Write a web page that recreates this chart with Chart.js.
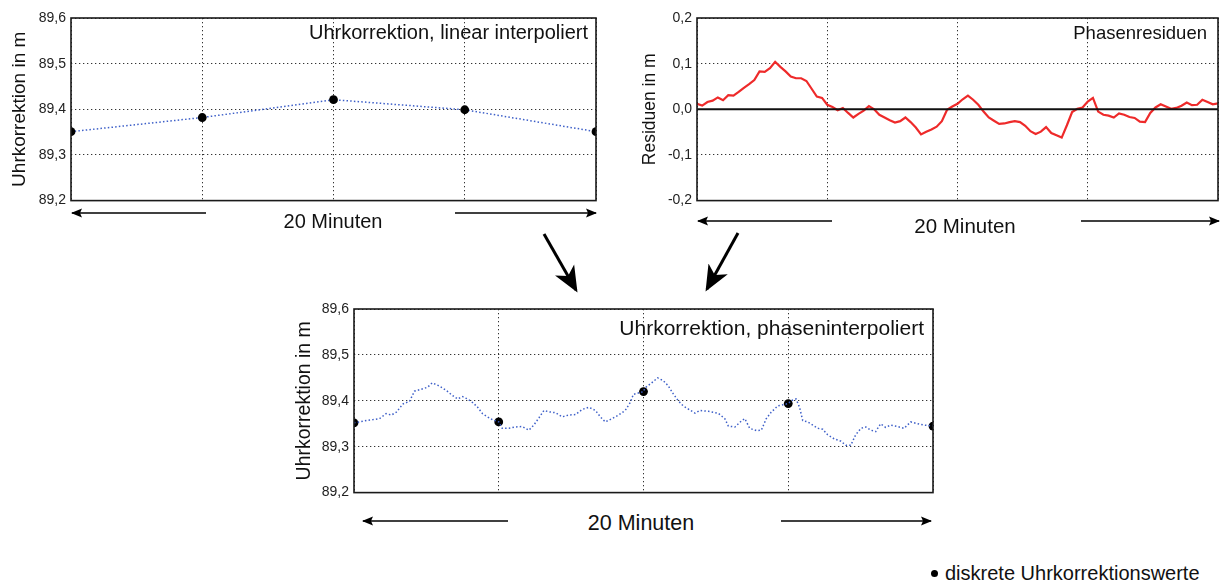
<!DOCTYPE html>
<html>
<head>
<meta charset="utf-8">
<script src="https://cdn.jsdelivr.net/npm/chart.js@4/dist/chart.umd.min.js"></script>
<style>
  body { margin: 0; width: 1222px; height: 582px; background: #fff; position: relative; overflow: hidden;
         font-family: 'Liberation Sans', Arial, sans-serif; color: #111; }
  canvas { position: absolute; }
  .lbl { position: absolute; white-space: nowrap; line-height: 1; }
  .ctr { transform: translate(-50%, -50%); }
  .rgt { transform: translate(-100%, -50%); }
  .dot { display: inline-block; width: 7px; height: 7px; border-radius: 50%; background: #000;
         vertical-align: middle; margin-right: 7px; position: relative; top: -1px; }
  svg { position: absolute; left: 0; top: 0; pointer-events: none; }
</style>
</head>
<body>
<canvas id="linChart" width="606" height="210" style="left:0;top:4px"></canvas>
<canvas id="resChart" width="592" height="210" style="left:630px;top:4px"></canvas>
<canvas id="phaseChart" width="665" height="212" style="left:280px;top:294px"></canvas>

<div class="lbl rgt" style="left:588px;top:32px;font-size:20px">Uhrkorrektion, linear interpoliert</div>
<div class="lbl rgt" style="left:1207px;top:33px;font-size:18.5px">Phasenresiduen</div>
<div class="lbl rgt" style="left:924px;top:327px;font-size:21px">Uhrkorrektion, phaseninterpoliert</div>

<div class="lbl ctr" style="left:333px;top:221px;font-size:20px">20 Minuten</div>
<div class="lbl ctr" style="left:965px;top:226px;font-size:20.5px">20 Minuten</div>
<div class="lbl ctr" style="left:641px;top:524px;font-size:21.5px">20 Minuten</div>

<div class="lbl" style="left:931px;top:563px;font-size:20px"><span class="dot"></span>diskrete Uhrkorrektionswerte</div>

<svg width="1222" height="582">
  <defs>
    <marker id="small" markerUnits="userSpaceOnUse" markerWidth="12" markerHeight="10" refX="10" refY="5" orient="auto">
      <path d="M0,0.5 L11,5 L0,9.5 L2,5 z" fill="#000"/>
    </marker>
    <marker id="big" markerUnits="userSpaceOnUse" markerWidth="28" markerHeight="26" refX="23" refY="13" orient="auto">
      <path d="M0,2 L26,13 L0,24 L7,13 z" fill="#000"/>
    </marker>
  </defs>
  <g stroke="#000" stroke-width="1.6">
    <line x1="206" y1="213" x2="72" y2="213" marker-end="url(#small)"/>
    <line x1="455" y1="213" x2="596" y2="213" marker-end="url(#small)"/>
    <line x1="832" y1="221" x2="698" y2="221" marker-end="url(#small)"/>
    <line x1="1081" y1="221" x2="1219" y2="221" marker-end="url(#small)"/>
    <line x1="508" y1="521" x2="363" y2="521" marker-end="url(#small)"/>
    <line x1="781" y1="521" x2="931" y2="521" marker-end="url(#small)"/>
  </g>
  <g stroke="#000" stroke-width="3">
    <line x1="544" y1="234" x2="576" y2="290" marker-end="url(#big)"/>
    <line x1="738" y1="233" x2="707" y2="289" marker-end="url(#big)"/>
  </g>
</svg>

<script>
// Zeitachse: 20 Minuten, Stützstellen alle 5 Minuten
const minuteTicks = [0, 5, 10, 15, 20];

// Diskrete Uhrkorrektionen (oben links, linear interpoliert)
const linearValues = [89.351, 89.382, 89.421, 89.399, 89.351];

const discreteValues = [89.352, 89.354, 89.420, 89.394, 89.345];

const residStep = 0.2;
const residValues = [
  0.012, 0.008, 0.016, 0.019, 0.026, 0.020, 0.031, 0.030, 0.038, 0.047,
  0.055, 0.064, 0.083, 0.082, 0.090, 0.104, 0.093, 0.083, 0.072, 0.068,
  0.068, 0.062, 0.045, 0.028, 0.025, 0.010,
  0.005, -0.002, 0.003, -0.008, -0.018, -0.010, -0.003, 0.007, 0.000, -0.012,
  -0.018, -0.024, -0.029, -0.026, -0.018, -0.028, -0.040, -0.055, -0.049, -0.044,
  -0.038, -0.026, -0.001, 0.006, 0.012, 0.022, 0.030, 0.021, 0.010, -0.005,
  -0.018, -0.025, -0.032, -0.031, -0.028, -0.026, -0.028, -0.036, -0.048, -0.054,
  -0.049, -0.039, -0.052, -0.057, -0.062, -0.035, -0.006, 0.001, 0.004, 0.017,
  0.025, -0.005, -0.012, -0.014, -0.018, -0.009, -0.012, -0.017, -0.019, -0.027,
  -0.028, -0.008, 0.004, 0.011, 0.006, 0.001, 0.003, 0.008, 0.015, 0.009,
  0.010, 0.021, 0.016, 0.011, 0.013
];

// Phaseninterpolierte Uhrkorrektion (unten)
const phaseTimes = [
  0.00, 0.20, 0.43, 0.65, 0.88, 1.11, 1.29, 1.46, 1.69, 1.92,
  2.09, 2.26, 2.43, 2.55, 2.70, 2.89, 3.06, 3.24, 3.41, 3.58,
  3.75, 3.92, 4.10, 4.27, 4.44, 4.61, 4.78, 5.00, 5.12, 5.35,
  5.58, 5.81, 6.04, 6.21, 6.39, 6.56, 6.73, 6.96, 7.19, 7.42,
  7.65, 7.88, 8.11, 8.34, 8.51, 8.68, 8.91, 9.14, 9.37, 9.54,
  9.65, 10.00, 10.05, 10.28, 10.49, 10.68, 10.85, 11.03, 11.20, 11.37,
  11.55, 11.78, 11.95, 12.24, 12.58, 12.81, 12.93, 13.16, 13.38, 13.50,
  13.67, 13.90, 14.07, 14.24, 14.41, 14.64, 15.00, 15.10, 15.27, 15.39,
  15.50, 15.67, 15.85, 16.02, 16.19, 16.36, 16.59, 16.82, 16.99, 17.16,
  17.33, 17.51, 17.68, 17.85, 18.02, 18.19, 18.36, 18.54, 18.77, 19.00,
  19.23, 19.46, 19.69, 20.00
];
const phaseValues = [
  89.352, 89.354, 89.357, 89.359, 89.361, 89.372, 89.369, 89.375, 89.393, 89.399,
  89.421, 89.424, 89.427, 89.430, 89.439, 89.434, 89.428, 89.420, 89.411, 89.404,
  89.409, 89.404, 89.396, 89.386, 89.372, 89.365, 89.359, 89.354, 89.340, 89.340,
  89.343, 89.344, 89.336, 89.347, 89.363, 89.379, 89.376, 89.374, 89.365, 89.369,
  89.370, 89.381, 89.386, 89.379, 89.365, 89.354, 89.361, 89.369, 89.379, 89.396,
  89.414, 89.420, 89.428, 89.439, 89.450, 89.444, 89.433, 89.415, 89.400, 89.389,
  89.382, 89.373, 89.379, 89.377, 89.373, 89.361, 89.345, 89.343, 89.356, 89.361,
  89.340, 89.335, 89.336, 89.361, 89.375, 89.389, 89.394, 89.400, 89.404, 89.386,
  89.357, 89.354, 89.347, 89.340, 89.338, 89.326, 89.317, 89.312, 89.303, 89.303,
  89.326, 89.340, 89.343, 89.336, 89.333, 89.350, 89.342, 89.347, 89.344, 89.340,
  89.354, 89.350, 89.347, 89.345
];

const FONT = "'Liberation Sans', Arial, sans-serif";
const BLUE = '#3d5fc8';
const RED = '#ee2a2a';
const GRID = '#333';

Chart.defaults.font.family = FONT;
Chart.defaults.color = '#222';

// Rahmen um die Plotfläche (durchgezogen, über den gepunkteten Gitterlinien)
const frame = {
  id: 'frame',
  afterDraw(chart) {
    const { ctx, chartArea: a } = chart;
    ctx.save();
    ctx.strokeStyle = '#1a1a1a';
    ctx.lineWidth = 1.6;
    ctx.strokeRect(a.left, a.top, a.right - a.left, a.bottom - a.top);
    ctx.restore();
  }
};

const commaFmt = v => {
  const s = (Math.abs(v) < 1e-9 ? 0 : v).toFixed(1);
  return s.replace('.', ',');
};

/** Gemeinsame Optionen: feste Achsbreiten, damit die Plotfläche genau sitzt */
function baseOptions({ yMin, yMax, yTitle, titleSize, titlePad, yWidth, xHeight, pad }) {
  return {
    responsive: false,
    animation: false,
    events: [],
    layout: { padding: pad },
    plugins: { legend: { display: false }, tooltip: { enabled: false } },
    scales: {
      x: {
        type: 'linear', min: 0, max: 20,
        afterBuildTicks: s => { s.ticks = minuteTicks.map(v => ({ value: v })); },
        ticks: { display: false },
        grid: { color: GRID, lineWidth: 1, drawTicks: false },
        border: { display: false, dash: [1.3, 2.7] },
        afterFit: s => { s.height = xHeight; }
      },
      y: {
        min: yMin, max: yMax,
        ticks: { stepSize: 0.1, padding: 5, callback: commaFmt, font: { size: 14 }, color: '#222' },
        grid: { color: GRID, lineWidth: 1, drawTicks: false },
        border: { display: false, dash: [1.3, 2.7] },
        title: { display: true, text: yTitle, font: { size: titleSize }, color: '#111', padding: { top: titlePad, bottom: 0 } },
        afterFit: s => { s.width = yWidth; }
      }
    }
  };
}

// Oben links: linear interpoliert
new Chart(document.getElementById('linChart'), {
  type: 'line',
  data: {
    datasets: [{
      data: minuteTicks.map((t, i) => ({ x: t, y: linearValues[i] })),
      borderColor: BLUE, borderWidth: 1.5, borderDash: [1.5, 2.2],
      pointRadius: 4.4, pointBackgroundColor: '#000', pointBorderColor: '#000', pointBorderWidth: 0,
      tension: 0
    }]
  },
  options: baseOptions({ yMin: 89.2, yMax: 89.6, yTitle: 'Uhrkorrektion in m', titleSize: 19, titlePad: 8,
                         yWidth: 71, xHeight: 7, pad: { top: 14, right: 10, left: 0, bottom: 0 } }),
  plugins: [frame]
});

// Oben rechts: Phasenresiduen
new Chart(document.getElementById('resChart'), {
  type: 'line',
  data: {
    datasets: [{
      data: [{ x: 0, y: 0 }, { x: 20, y: 0 }],
      borderColor: '#111', borderWidth: 2, pointRadius: 0
    }, {
      data: residValues.map((v, i) => ({ x: i * residStep, y: v })),
      borderColor: RED, borderWidth: 2.2, pointRadius: 0, tension: 0
    }]
  },
  options: baseOptions({ yMin: -0.2, yMax: 0.2, yTitle: 'Residuen in m', titleSize: 17.5, titlePad: 10,
                         yWidth: 67, xHeight: 7, pad: { top: 14, right: 4, left: 0, bottom: 0 } }),
  plugins: [frame]
});

// Unten: phaseninterpoliert
new Chart(document.getElementById('phaseChart'), {
  type: 'line',
  data: {
    datasets: [{
      data: phaseTimes.map((t, i) => ({ x: t, y: phaseValues[i] })),
      borderColor: BLUE, borderWidth: 1.5, borderDash: [1.5, 2.2], pointRadius: 0, tension: 0
    }, {
      data: minuteTicks.map((t, i) => ({ x: t, y: discreteValues[i] })),
      showLine: false, pointRadius: 4.4, pointBackgroundColor: '#000', pointBorderColor: '#000', pointBorderWidth: 0
    }]
  },
  options: baseOptions({ yMin: 89.2, yMax: 89.6, yTitle: 'Uhrkorrektion in m', titleSize: 19.5, titlePad: 13,
                         yWidth: 74, xHeight: 8, pad: { top: 15, right: 12, left: 0, bottom: 0 } }),
  plugins: [frame]
});
</script>
</body>
</html>
